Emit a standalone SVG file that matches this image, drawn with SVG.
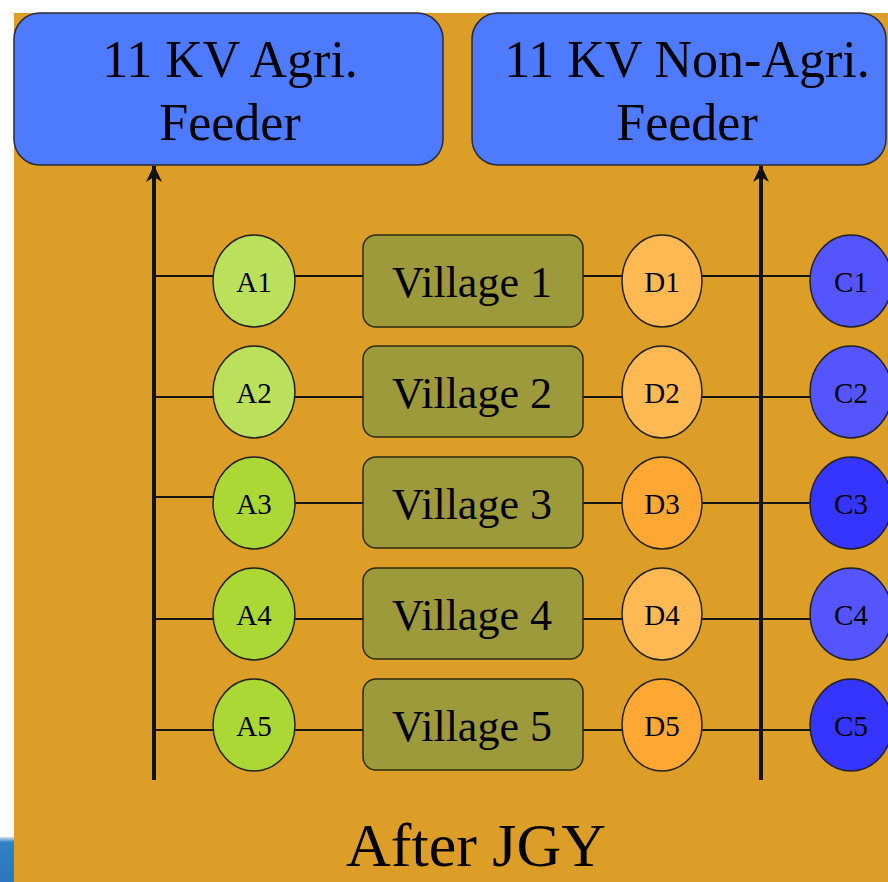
<svg xmlns="http://www.w3.org/2000/svg" width="888" height="882" viewBox="0 0 888 882">
  <defs>
    <marker id="arrow" viewBox="0 0 18 16" refX="17" refY="8" markerWidth="18" markerHeight="16" markerUnits="userSpaceOnUse" orient="auto">
      <path d="M18,8 L1,0 L6,8 L1,16 Z" fill="#111"/>
    </marker>
    <linearGradient id="strip" x1="0" y1="0" x2="0" y2="1">
      <stop offset="0" stop-color="#cfe3f2"/>
      <stop offset="0.12" stop-color="#2f80c4"/>
      <stop offset="1" stop-color="#2a78bd"/>
    </linearGradient>
  </defs>
  <style>
    .feeder { fill: #4d7aff; stroke: #2a2a3a; stroke-width: 1.5; }
    .village { fill: #9c9a3a; stroke: #2b2b10; stroke-width: 1.5; }
    .node { stroke: #222; stroke-width: 1.5; }
    .t { font-family: "Liberation Serif", "Times New Roman", serif; fill: #000; text-anchor: middle; }
    .big { font-size: 52px; }
    .vt { font-size: 44px; }
    .nt { font-size: 29px; }
    .bus { stroke: #111; stroke-width: 4; fill: none; }
    .link { stroke: #151515; stroke-width: 2; fill: none; }
  </style>

  <rect x="0" y="0" width="888" height="882" fill="#ffffff"/>
  <rect x="14" y="13" width="874" height="869" fill="#dc9e26"/>
  <rect x="0" y="837" width="14" height="45" fill="url(#strip)"/>

  <g id="feeder-agri">
    <rect class="feeder" x="14" y="13" width="429" height="152" rx="26"/>
    <text class="t big" x="230" y="77">11 KV Agri.</text>
    <text class="t big" x="230" y="140">Feeder</text>
  </g>
  <g id="feeder-nonagri">
    <rect class="feeder" x="472" y="13" width="414" height="152" rx="26"/>
    <text class="t big" x="687" y="77">11 KV Non-Agri.</text>
    <text class="t big" x="687" y="140">Feeder</text>
  </g>

  <g id="connectors">
    <line class="bus" x1="154" y1="780" x2="154" y2="166" marker-end="url(#arrow)"/>
    <line class="bus" x1="761" y1="780" x2="761" y2="166" marker-end="url(#arrow)"/>
    <line class="link" x1="154" y1="276" x2="812" y2="276"/>
    <line class="link" x1="154" y1="397" x2="812" y2="397"/>
    <line class="link" x1="154" y1="497" x2="214" y2="497"/>
    <line class="link" x1="294" y1="503" x2="812" y2="503"/>
    <line class="link" x1="154" y1="619" x2="812" y2="619" stroke="#2a2a2a"/>
    <line class="link" x1="154" y1="730" x2="812" y2="730" stroke="#2a2a2a"/>
  </g>

  <g id="row1">
    <g id="A1"><ellipse class="node" cx="254" cy="281" rx="41" ry="46" fill="#bbe05c"/><text class="t nt" x="254" y="292">A1</text></g>
    <g id="village1"><rect class="village" x="363" y="235" width="220" height="92" rx="13"/><text class="t vt" x="472" y="297">Village 1</text></g>
    <g id="D1"><ellipse class="node" cx="662" cy="281" rx="40" ry="46" fill="#ffb952"/><text class="t nt" x="662" y="292">D1</text></g>
    <g id="C1"><ellipse class="node" cx="851" cy="281" rx="41" ry="46" fill="#5555ff"/><text class="t nt" x="851" y="292">C1</text></g>
  </g>
  <g id="row2">
    <g id="A2"><ellipse class="node" cx="254" cy="392" rx="41" ry="46" fill="#bbe05c"/><text class="t nt" x="254" y="403">A2</text></g>
    <g id="village2"><rect class="village" x="363" y="346" width="220" height="91" rx="13"/><text class="t vt" x="472" y="408">Village 2</text></g>
    <g id="D2"><ellipse class="node" cx="662" cy="392" rx="40" ry="46" fill="#ffb952"/><text class="t nt" x="662" y="403">D2</text></g>
    <g id="C2"><ellipse class="node" cx="851" cy="392" rx="41" ry="46" fill="#5555ff"/><text class="t nt" x="851" y="403">C2</text></g>
  </g>
  <g id="row3">
    <g id="A3"><ellipse class="node" cx="254" cy="503" rx="41" ry="46" fill="#acd836"/><text class="t nt" x="254" y="514">A3</text></g>
    <g id="village3"><rect class="village" x="363" y="457" width="220" height="91" rx="13"/><text class="t vt" x="472" y="519">Village 3</text></g>
    <g id="D3"><ellipse class="node" cx="662" cy="503" rx="40" ry="46" fill="#ffa733"/><text class="t nt" x="662" y="514">D3</text></g>
    <g id="C3"><ellipse class="node" cx="851" cy="503" rx="41" ry="46" fill="#3535ff"/><text class="t nt" x="851" y="514">C3</text></g>
  </g>
  <g id="row4">
    <g id="A4"><ellipse class="node" cx="254" cy="614" rx="41" ry="46" fill="#acd836"/><text class="t nt" x="254" y="625">A4</text></g>
    <g id="village4"><rect class="village" x="363" y="568" width="220" height="91" rx="13"/><text class="t vt" x="472" y="630">Village 4</text></g>
    <g id="D4"><ellipse class="node" cx="662" cy="614" rx="40" ry="46" fill="#ffb952"/><text class="t nt" x="662" y="625">D4</text></g>
    <g id="C4"><ellipse class="node" cx="851" cy="614" rx="41" ry="46" fill="#5555ff"/><text class="t nt" x="851" y="625">C4</text></g>
  </g>
  <g id="row5">
    <g id="A5"><ellipse class="node" cx="254" cy="725" rx="41" ry="46" fill="#acd836"/><text class="t nt" x="254" y="736">A5</text></g>
    <g id="village5"><rect class="village" x="363" y="679" width="220" height="91" rx="13"/><text class="t vt" x="472" y="741">Village 5</text></g>
    <g id="D5"><ellipse class="node" cx="662" cy="725" rx="40" ry="46" fill="#ffa733"/><text class="t nt" x="662" y="736">D5</text></g>
    <g id="C5"><ellipse class="node" cx="851" cy="725" rx="41" ry="46" fill="#3535ff"/><text class="t nt" x="851" y="736">C5</text></g>
  </g>

  <text class="t" x="476" y="866" font-size="62">After JGY</text>
</svg>
